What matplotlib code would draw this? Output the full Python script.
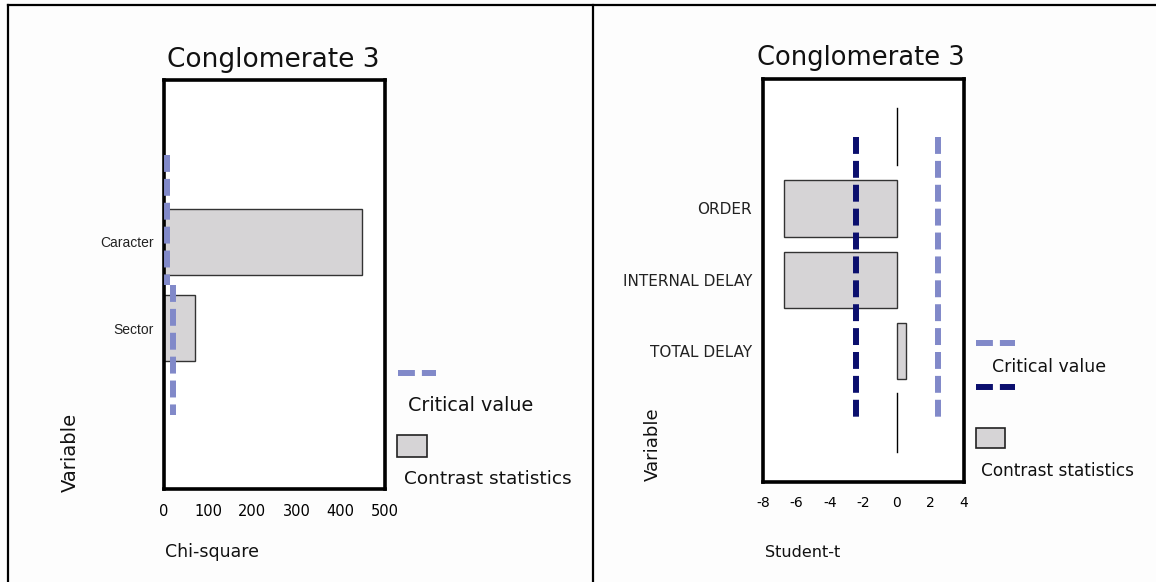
import matplotlib.pyplot as plt
from matplotlib.lines import Line2D
from matplotlib.patches import Rectangle

# chi-square panel
chi_vars = ["Caracter", "Sector"]
chi_values = [448, 70]
chi_crit = [6, 21]
chi_ticks = [0, 100, 200, 300, 400, 500]

# student-t panel
t_vars = ["ORDER", "INTERNAL DELAY", "TOTAL DELAY"]
t_values = [-6.75, -6.75, 0.55]
t_crit = 2.447
t_ticks = [-8, -6, -4, -2, 0, 2, 4]

W, H = 1156, 582
LIGHT = "#8189c9"
NAVY = "#0b0f6e"
BAR = "#d6d4d6"
FONT = "DejaVu Sans"
DASH = (2.83, 1.17)

fig = plt.figure(figsize=(W / 100, H / 100), dpi=100)
fig.patch.set_facecolor("#fdfdfd")


def px(x, y):
    """pixel position (from top-left) -> figure fraction"""
    return x / W, 1 - y / H


def ftext(x, y, s, size, **kw):
    fx, fy = px(x, y)
    fig.text(fx, fy, s, fontsize=size, family=FONT, color="#111111", **kw)


def fline(x0, x1, y, color):
    (a, b), (c, d) = px(x0, y), px(x1, y)
    fig.add_artist(Line2D([a, c], [b, d], transform=fig.transFigure, color=color,
                          lw=4.3, dashes=DASH, solid_capstyle="butt"))


def fbox(x0, y0, x1, y1):
    a, b = px(x0, y1)
    fig.add_artist(Rectangle((a, b), (x1 - x0) / W, (y1 - y0) / H, transform=fig.transFigure,
                             facecolor=BAR, edgecolor="#222222", lw=1.2))


def style_axes(ax):
    for sp in ax.spines.values():
        sp.set_linewidth(2.6)
        sp.set_color("black")
    ax.set_facecolor("white")
    ax.tick_params(length=0)


# outer frame
for xs, ys in [([8, 8], [582, 5]), ([8, 1156], [5, 5]), ([593, 593], [5, 582])]:
    fig.add_artist(Line2D([x / W for x in xs], [1 - y / H for y in ys],
                          transform=fig.transFigure, color="black", lw=1.6))

# ---- left panel ----
ax1 = fig.add_axes([164 / W, 1 - 489.2 / H, 221 / W, 409.4 / H])
style_axes(ax1)
pos1 = [1, 2]
ax1.barh(pos1, chi_values, height=0.76, color=BAR, edgecolor="#333333", lw=1.0, zorder=2)
edges = [0, 1.5, 3]
for i, c in enumerate(chi_crit):
    ax1.plot([c, c], [edges[i], edges[i + 1]], color=LIGHT, lw=4.3, dashes=DASH, zorder=3)
ax1.set_xlim(0, 500)
ax1.set_ylim(3.862, -0.871)
ax1.set_yticks(pos1)
ax1.set_yticklabels(chi_vars, fontsize=10, family="Liberation Sans", color="#222222")
ax1.set_xticks(chi_ticks)
ax1.set_xticklabels([str(t) for t in chi_ticks], fontsize=10.5, family=FONT)
ax1.tick_params(axis="x", pad=11)
ax1.tick_params(axis="y", pad=7.5)

ftext(273, 66.8, "Conglomerate 3", 19, ha="center", va="baseline")
ftext(165, 556.8, "Chi-square", 12.5, ha="left", va="baseline")
ftext(70, 452.8, "Variable", 14, ha="center", va="center", rotation=90)
fline(398, 436, 373, LIGHT)
ftext(408, 411.3, "Critical value", 13.8, ha="left", va="baseline")
fbox(397, 435, 427, 457.3)
ftext(404, 483.7, "Contrast statistics", 13.3, ha="left", va="baseline")

# ---- right panel ----
ax2 = fig.add_axes([763 / W, 1 - 481.8 / H, 201 / W, 403.1 / H])
style_axes(ax2)
pos2 = [1, 2, 3]
ax2.barh(pos2, t_values, height=0.79, color=BAR, edgecolor="#333333", lw=1.0, zorder=2)
ax2.plot([0, 0], [-0.413, 0.395], color="black", lw=1.0)
ax2.plot([0, 0], [3.594, 4.41], color="black", lw=1.0)
ax2.plot([-t_crit, -t_crit], [0, 4], color=NAVY, lw=4.3, dashes=DASH, zorder=3)
ax2.plot([t_crit, t_crit], [0, 4], color=LIGHT, lw=4.3, dashes=DASH, zorder=3)
ax2.set_xlim(-8, 4)
ax2.set_ylim(4.832, -0.818)
ax2.set_yticks(pos2)
ax2.set_yticklabels(t_vars, fontsize=11, family=FONT, color="#222222")
ax2.set_xticks(t_ticks)
ax2.set_xticklabels([str(t) for t in t_ticks], fontsize=10, family=FONT)
ax2.tick_params(axis="x", pad=10)
ax2.tick_params(axis="y", pad=8)

ftext(861, 65, "Conglomerate 3", 18.5, ha="center", va="baseline")
ftext(765, 557, "Student-t", 11.5, ha="left", va="baseline")
ftext(653, 444.5, "Variable", 13, ha="center", va="center", rotation=90)
fline(976, 1015, 342.6, LIGHT)
ftext(992.5, 372.3, "Critical value", 12.5, ha="left", va="baseline")
fline(976, 1015, 387.2, NAVY)
fbox(976, 427.6, 1005, 448.4)
ftext(981, 476.2, "Contrast statistics", 12.2, ha="left", va="baseline")

fig.savefig("out.png", dpi=100, facecolor=fig.get_facecolor())
